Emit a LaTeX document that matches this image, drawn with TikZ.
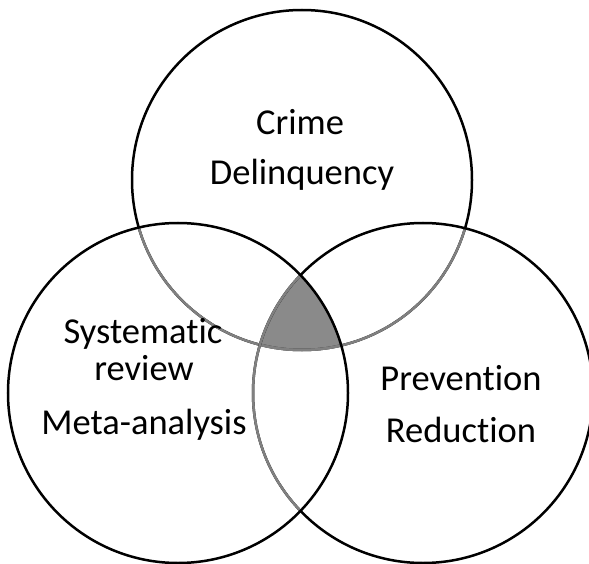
\documentclass[tikz,border=0pt]{standalone}
\usepackage{fontspec}
\setmainfont{Carlito}[Ligatures={NoCommon,NoContextual}]
\begin{document}
\begin{tikzpicture}[x=1pt,y=-1pt,line width=2.5pt,
  lbl/.style={font=\fontsize{36.5}{40}\selectfont, anchor=base, inner sep=0pt},
  faint/.style={draw=black!50}]
\useasboundingbox (0,0) rectangle (589,564);
\coordinate (T) at (302,180);
\coordinate (L) at (178,393);
\coordinate (R) at (423,393);
\def\rr{170pt}
% shaded triple intersection
\begin{scope}
  \clip (T) circle[radius=\rr];
  \clip (L) circle[radius=\rr];
  \fill[black!46] (R) circle[radius=\rr];
\end{scope}
% top circle
\draw (T) circle[radius=\rr];
\begin{scope}
  \clip (L) circle[radius=\rr];
  \draw[faint] (T) circle[radius=\rr];
\end{scope}
\begin{scope}
  \clip (R) circle[radius=\rr];
  \draw[faint] (T) circle[radius=\rr];
\end{scope}
% right circle
\draw (R) circle[radius=\rr];
\begin{scope}
  \clip (L) circle[radius=\rr];
  \draw[faint] (R) circle[radius=\rr];
\end{scope}
% left circle
\draw (L) circle[radius=\rr];
% labels
\node[lbl] (crime) at (300,135) {Crime};
\node[lbl] (delinq) at (302,185) {Delinquency};
\node[lbl] (sys) at (143,343) {Systematic};
\node[lbl] (rev) at (144,380) {review};
\node[lbl] (meta) at (144,434) {Meta-analysis};
\node[lbl] (prev) at (461,390) {Prevention};
\node[lbl] (red) at (461,442) {Reduction};
\end{tikzpicture}
\end{document}
